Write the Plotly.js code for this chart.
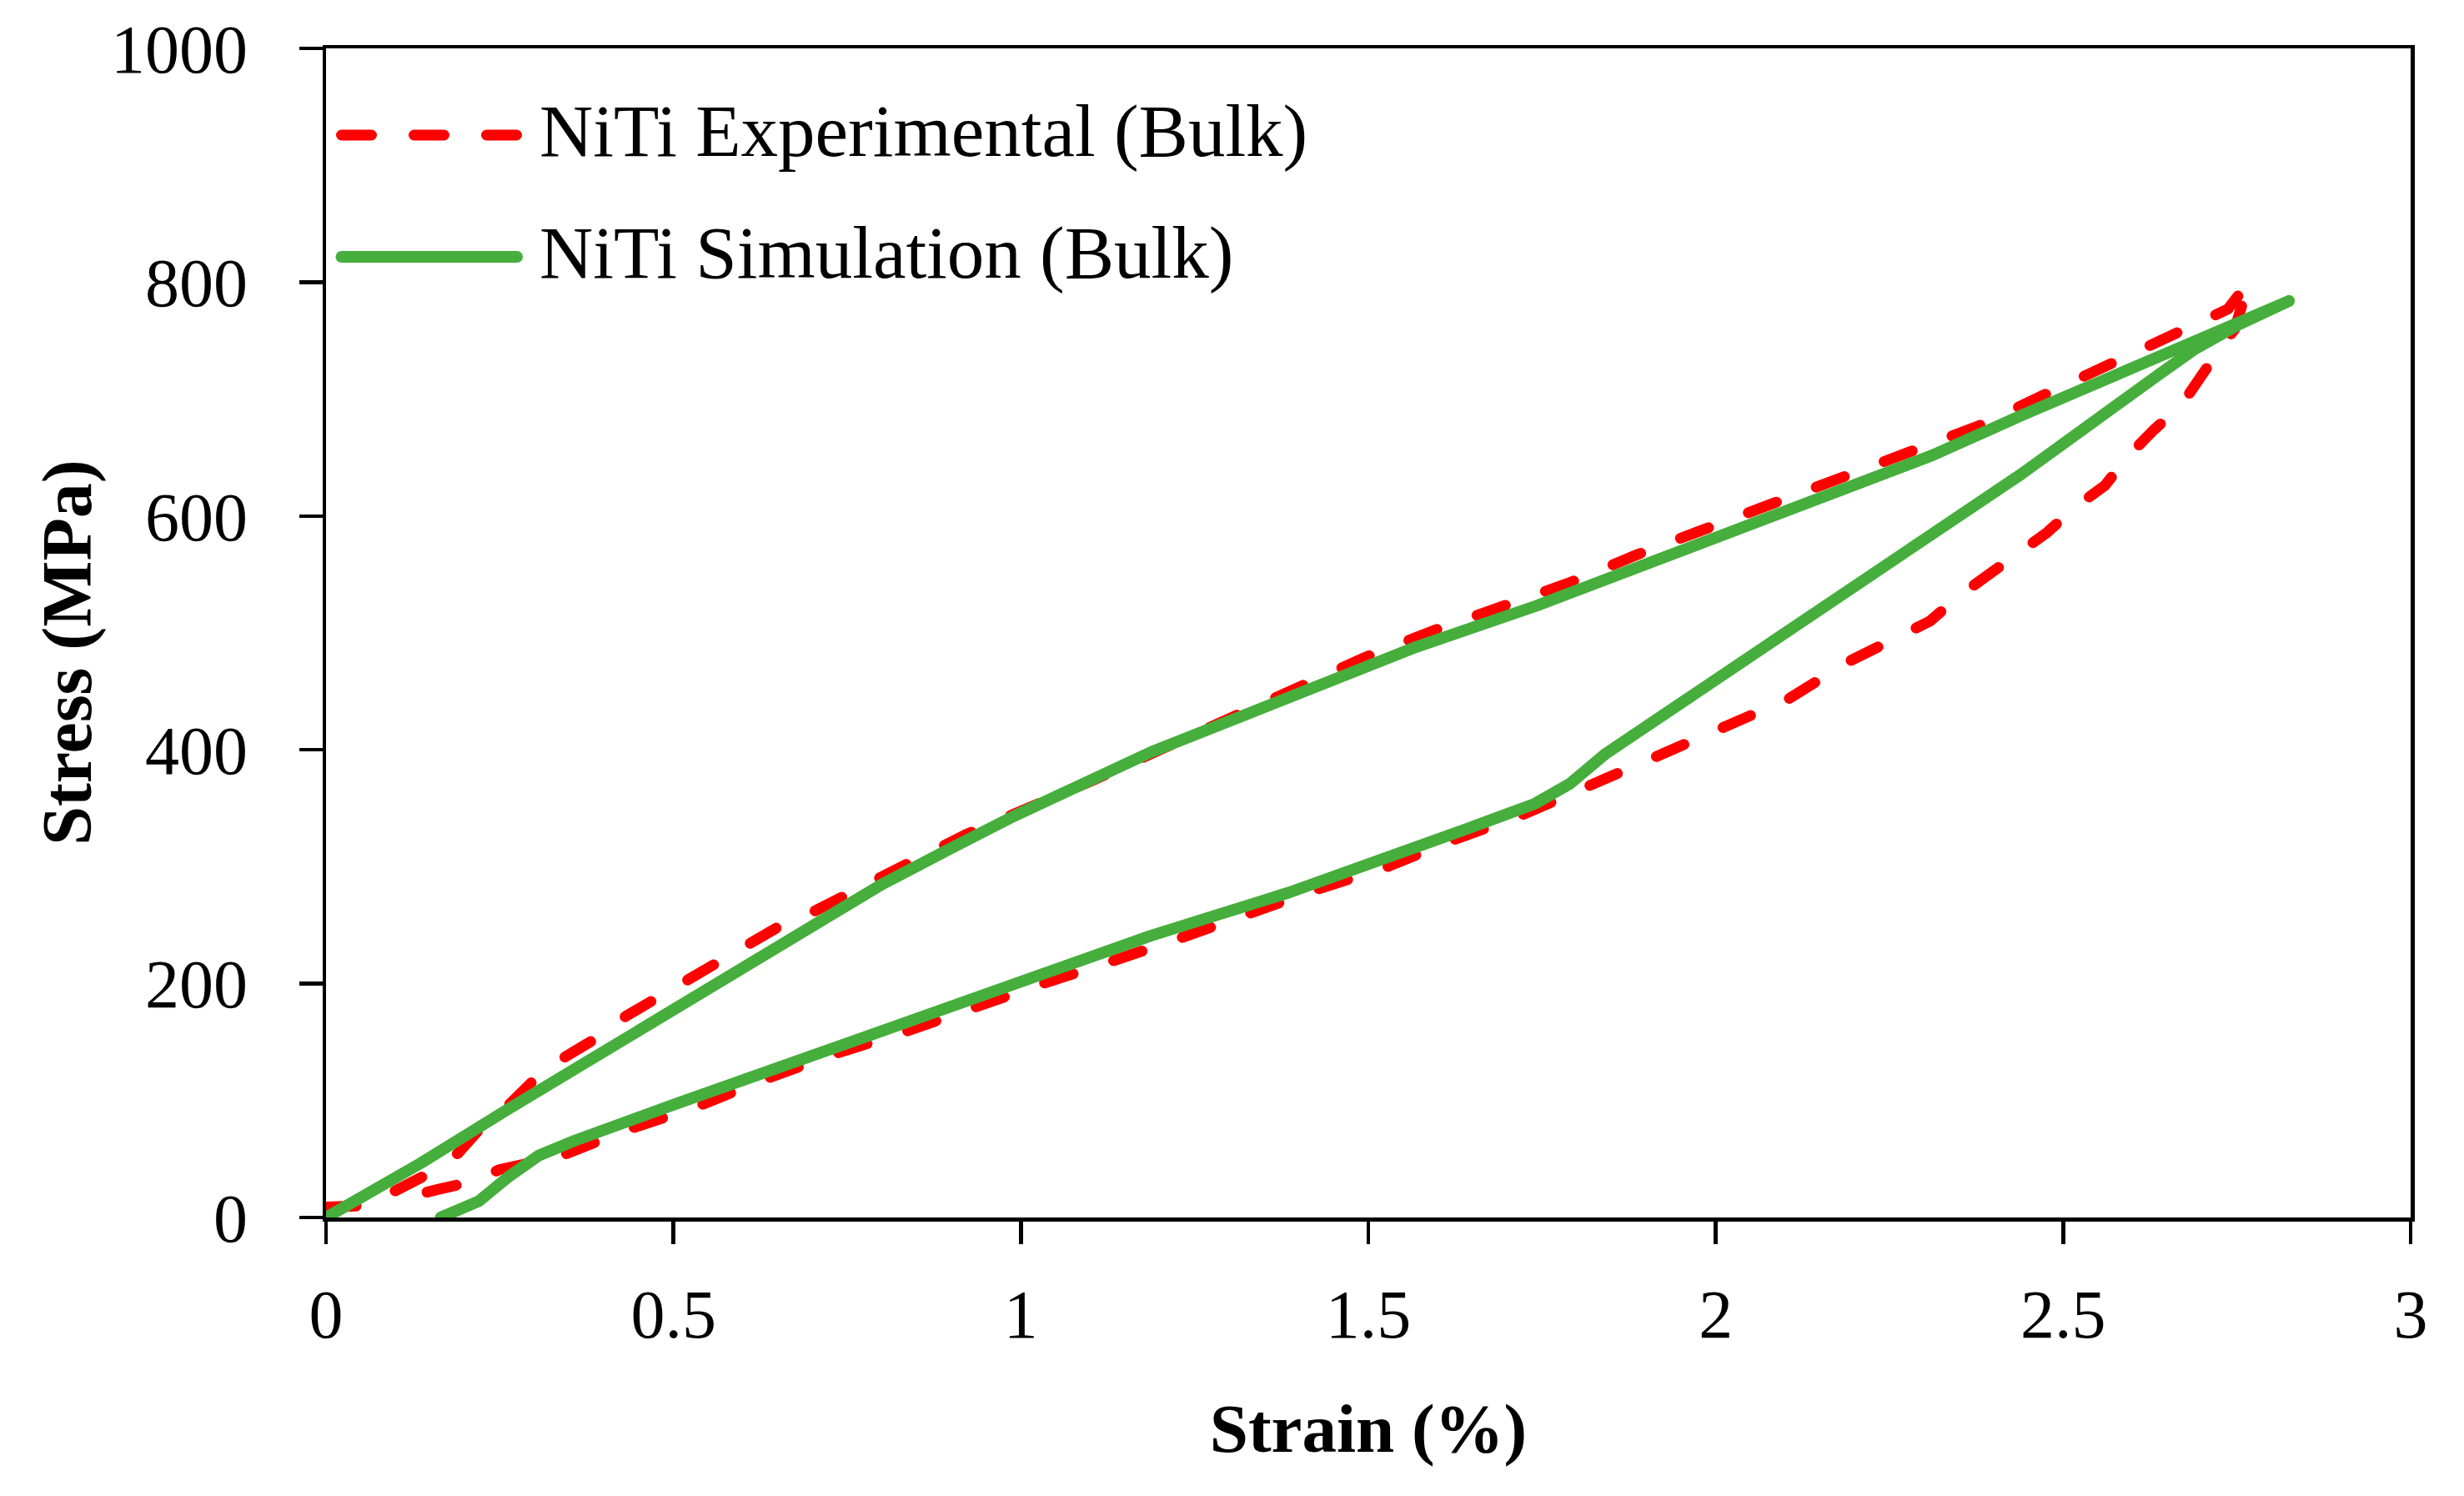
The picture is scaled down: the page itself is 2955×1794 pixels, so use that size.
<!DOCTYPE html>
<html>
<head>
<meta charset="utf-8">
<script src="https://cdn.plot.ly/plotly-3.0.1.min.js"></script>
<style>
  html, body { margin: 0; padding: 0; background: #fff; }
  #chart { width: 2955px; height: 1794px; }
  .js-line { stroke-linecap: round !important; stroke-linejoin: round !important; }
  .shapelayer path { stroke-linecap: round !important; }
</style>
</head>
<body>
<div id="chart"></div>
<script>
// ---- Data ----
const expName = "NiTi Experimental (Bulk)";
const simName = "NiTi Simulation (Bulk)";
const xTitle = "Strain (%)";
const yTitle = "Stress (MPa)";

const expStrain = [0, 0.055, 0.097, 0.146, 0.19, 0.22, 0.266, 0.30, 0.343, 0.388, 0.431, 0.474,
  0.522, 0.567, 0.61, 0.655, 0.703, 0.751, 0.80, 0.825, 0.919, 1.0, 1.1, 1.2, 1.306, 1.396,
  1.495, 1.594, 1.692, 1.79, 1.887, 1.985, 2.083, 2.181, 2.279, 2.378, 2.474, 2.569, 2.664,
  2.737, 2.767, 2.755, 2.747, 2.729, 2.697, 2.669, 2.631, 2.593, 2.56, 2.518, 2.477, 2.437,
  2.392, 2.351, 2.308, 2.286, 2.193, 2.103, 2.007, 1.912, 1.814, 1.716, 1.618, 1.523, 1.423,
  1.324, 1.225, 1.125, 1.026, 0.829, 0.727, 0.626, 0.53, 0.428, 0.335, 0.25, 0.205, 0.161, 0.107];
const expStress = [9, 10, 22, 37, 55, 75, 98, 118, 137, 153, 172, 187,
  203, 218, 235, 250, 262, 277, 293, 299, 327, 347, 373, 400, 429, 454,
  479, 502, 523, 543, 567, 589, 611, 633, 655, 677, 704, 730, 756,
  777, 800, 777, 760, 746, 720, 694, 674, 651, 626, 608, 586, 569,
  548, 532, 510, 503, 476, 443, 418, 394, 369, 343, 322, 299, 280,
  258, 238, 218, 199, 158, 139, 117, 94, 74, 52, 41, 30, 24, 16];

const simStrain = [0, 0.135, 0.263, 0.498, 0.8, 0.9, 0.989, 1.187, 1.386, 1.569, 1.741, 1.936,
  2.132, 2.312, 2.44, 2.616, 2.742, 2.825, 2.75, 2.69, 2.64, 2.59, 2.44, 2.31, 2.23, 2.13,
  2.03, 1.94, 1.84, 1.79, 1.74, 1.64, 1.545, 1.386, 1.187, 0.989, 0.79, 0.498, 0.359, 0.306,
  0.263, 0.22, 0.165];
const simStress = [0, 46, 93, 178, 285, 316, 343, 398, 444, 488, 523, 567,
  613, 652, 686, 731, 764, 784, 763, 743, 722, 700, 636, 584, 552, 513,
  474, 436, 396, 371, 354, 332, 312, 278, 241, 200, 159, 96, 66, 53,
  35, 14, 0];

const xTicks = [0, 0.5, 1, 1.5, 2, 2.5, 3];
const xTickText = ["0", "0.5", "1", "1.5", "2", "2.5", "3"];
const yTicks = [0, 200, 400, 600, 800, 1000];
const yTickText = ["0", "200", "400", "600", "800", "1000"];

// ---- Styles ----
const RED = "#FF0000";
const GREEN = "#46AE3C";
const SERIF = "Liberation Serif, Times New Roman, serif";
const DASH = "36px,51px";

const traces = [
  {
    x: expStrain, y: expStress, name: expName, type: "scatter", mode: "lines",
    line: { color: RED, width: 13, dash: DASH }, showlegend: false, hoverinfo: "skip"
  },
  {
    x: simStrain, y: simStress, name: simName, type: "scatter", mode: "lines",
    line: { color: GREEN, width: 14 }, showlegend: false, hoverinfo: "skip"
  }
];

const axisCommon = {
  showline: true, linecolor: "#000", linewidth: 4.5, mirror: true,
  ticks: "outside", tickcolor: "#000", tickwidth: 4.5,
  showgrid: false, zeroline: false, automargin: false,
  tickfont: { family: SERIF, size: 82, color: "#000" }
};

const layout = {
  width: 2955, height: 1794,
  margin: { l: 391, r: 64, t: 58, b: 334, pad: 0 },
  paper_bgcolor: "#fff", plot_bgcolor: "#fff",
  xaxis: Object.assign({}, axisCommon, {
    range: [0, 3], tickvals: xTicks, ticktext: xTickText, ticklen: 27,
    ticklabelstandoff: 14,
    title: { text: "<b>" + xTitle + "</b>", font: { family: SERIF, size: 83, color: "#000" }, standoff: 63 }
  }),
  yaxis: Object.assign({}, axisCommon, {
    range: [0, 1000], tickvals: yTicks, ticktext: yTickText, ticklen: 28,
    ticklabelstandoff: 45
  }),
  shapes: [
    { type: "line", xref: "paper", yref: "paper", x0: 0.0074, x1: 0.0916, y0: 0.9258, y1: 0.9258,
      line: { color: RED, width: 13, dash: DASH } },
    { type: "line", xref: "paper", yref: "paper", x0: 0.0074, x1: 0.0916, y0: 0.8217, y1: 0.8217,
      line: { color: GREEN, width: 14 } }
  ],
  annotations: [
    { xref: "paper", yref: "paper", x: 0.1016, y: 0.9294, xanchor: "left", yanchor: "middle",
      text: expName, showarrow: false, font: { family: SERIF, size: 89, color: "#000" } },
    { xref: "paper", yref: "paper", x: 0.1016, y: 0.8252, xanchor: "left", yanchor: "middle",
      text: simName, showarrow: false, font: { family: SERIF, size: 89, color: "#000" } },
    { xref: "paper", yref: "paper", x: -0.124, y: 0.483, xanchor: "center", yanchor: "middle",
      textangle: -90, text: "<b>" + yTitle + "</b>", showarrow: false,
      font: { family: SERIF, size: 84, color: "#000" } }
  ],
  showlegend: false
};

Plotly.newPlot("chart", traces, layout, { staticPlot: true, displayModeBar: false });
</script>
</body>
</html>
